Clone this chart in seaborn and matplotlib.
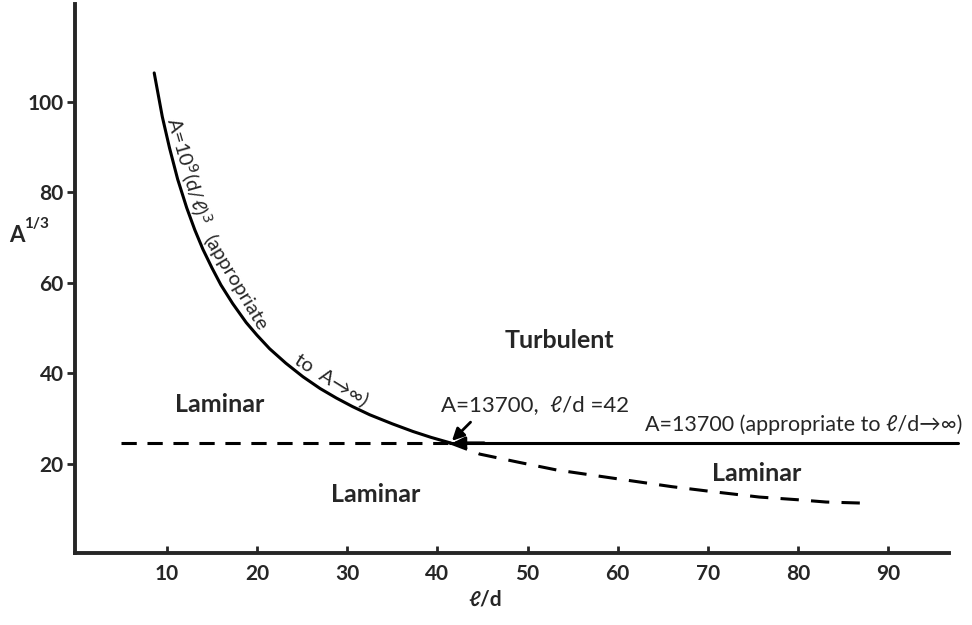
import numpy as np
import pandas as pd
import matplotlib
matplotlib.use("Agg")
import matplotlib.pyplot as plt
import seaborn as sns

# values
curve_x = [8.6, 9.5, 10.3, 11.2, 12.2, 13.1, 14.0, 15.0, 16.0, 17.3, 18.8, 20.0,
           21.4, 23.2, 25.1, 27.0, 28.8, 30.6, 32.5, 35.0, 37.3, 39.3, 41.4]
curve_y = [106.4, 96.7, 89.8, 82.9, 76.6, 71.7, 67.4, 63.3, 59.5, 55.4, 51.2, 48.4,
           45.4, 42.2, 39.2, 36.6, 34.5, 32.6, 30.8, 28.8, 27.1, 25.8, 24.6]

lower_x = [41.4, 44.7, 49.0, 53.2, 59.4, 66.0, 70.5, 75.7, 80.0, 83.1, 88.2]
lower_y = [24.6, 22.1, 20.3, 18.6, 16.8, 14.9, 13.8, 12.6, 12.0, 11.5, 11.2]

crit_y = 24.6          # A = 13700
crit_x = 41.4          # l/d = 42
left_dash_x = [4.9, 41.4]
right_solid_x = [41.4, 97.7]

xticks = [10, 20, 30, 40, 50, 60, 70, 80, 90]
yticks = [20, 40, 60, 80, 100]

sns.set_style("ticks")
plt.rcParams['font.family'] = ['Lato', 'DejaVu Sans']

fig = plt.figure(figsize=(9.72, 6.25), dpi=100)
ax = fig.add_axes([0.077, 0.115, 0.899, 0.879])

lw = 2.2
sns.lineplot(x=curve_x, y=curve_y, color='black', lw=lw, ax=ax)
sns.lineplot(x=lower_x, y=lower_y, color='black', lw=lw, linestyle=(0, (6, 4)), ax=ax)
sns.lineplot(x=left_dash_x, y=[crit_y, crit_y], color='black', lw=lw,
             linestyle=(0, (5, 3.5)), ax=ax)
sns.lineplot(x=right_solid_x, y=[crit_y, crit_y], color='black', lw=lw, ax=ax)
for l in ax.get_lines():
    l.set_clip_on(False)

# arrows at the intersection
ax.annotate('', xy=(crit_x, crit_y), xytext=(43.9, 29.6),
            arrowprops=dict(arrowstyle='-|>', color='black', lw=2, mutation_scale=18))
ax.annotate('', xy=(crit_x, crit_y), xytext=(45.5, crit_y),
            arrowprops=dict(arrowstyle='-|>', color='black', lw=2, mutation_scale=18))

ax.set_xlim(-0.2, 96.7)
ax.set_ylim(0.2, 121.7)
ax.set_xticks(xticks)
ax.set_yticks(yticks)
ax.tick_params(axis='x', direction='in', length=5, width=2, labelsize=15, pad=8)
ax.tick_params(axis='y', direction='out', length=6, width=2, labelsize=15, pad=2)
for t in ax.get_xticklabels() + ax.get_yticklabels():
    t.set_fontweight('bold')
for s in ['top', 'right']:
    ax.spines[s].set_visible(False)
for s in ['left', 'bottom']:
    ax.spines[s].set_linewidth(2.8)

# axis labels
fig.text(17 / 972, 1 - 236 / 625, 'A', fontsize=16, fontweight='bold', ha='center', va='center')
fig.text(36 / 972, 1 - 224 / 625, '1/3', fontsize=11, fontweight='bold', ha='center', va='center')
fig.text(485 / 972, 1 - 600 / 625, '\u2113/d', fontsize=15, fontweight='bold', ha='center', va='center')

# region labels
ax.text(15.9, 33.0, 'Laminar', fontsize=18, fontweight='bold', ha='center', va='center')
ax.text(33.2, 13.1, 'Laminar', fontsize=18, fontweight='bold', ha='center', va='center')
ax.text(75.4, 17.9, 'Laminar', fontsize=18, fontweight='bold', ha='center', va='center')
ax.text(53.5, 47.3, 'Turbulent', fontsize=18, fontweight='bold', ha='center', va='center')

ax.text(50.8, 33.0, 'A=13700,  \u2113/d =42', fontsize=16, ha='center', va='center')
ax.text(98.2, 28.5, 'A=13700 (appropriate to \u2113/d\u2192\u221e)', fontsize=15.5,
        ha='right', va='center', clip_on=False)

# label following the curve, in three straight pieces set on chords of it
pieces = [('A=10$^9$(d/\u2113)$^3$', 11.3, 84.2, -74),
          ('(appropriate', 16.8, 59.0, -59),
          ('to  A\u2192\u221e)', 27.8, 36.9, -32)]
for txt, px, py, rot in pieces:
    nx = np.sin(np.radians(-rot)) * 2
    ny = np.cos(np.radians(-rot)) * 2
    ax.annotate(txt, xy=(px, py), xytext=(nx, ny), textcoords='offset points',
                fontsize=14.5, rotation=rot, ha='center', va='baseline',
                rotation_mode='anchor')

fig.savefig('out.png', dpi=100)
